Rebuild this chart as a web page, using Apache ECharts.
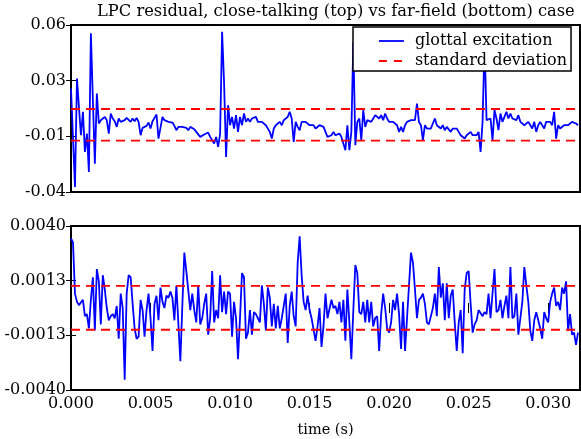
<!DOCTYPE html>
<html>
<head>
<meta charset="utf-8">
<title>LPC residual</title>
<script src="https://cdn.jsdelivr.net/npm/echarts@6/dist/echarts.min.js"></script>
</head>
<body style="margin:0">
<div id="main" style="width:581px;height:439px"></div>
<script type="text/javascript">
// sample step, 8 kHz
var DT = 0.000125;

// close-talking residual (top)
var closeTalk = [
  0.022, 0.022, -0.037, 0.028, 0.027, -0.006, 0.008, -0.016, -0.005, -0.028,
  0.055, 0.015, -0.023, 0.019, 0.001, 0.003, 0.002, 0.005, 0.003, -0.005,
  0.007, 0.004, 0.0024, -0.001, 0.004, 0.002, 0.003, 0.003, 0.0044, 0.0036,
  0.002, 0.004, 0.0024, 0.0044, 0.002, -0.006, -0.0016, -0.0016, -0.0004, 0.0016,
  -0.002, 0.0024, 0.0044, 0.0064, -0.008, -0.0016, 0.005, 0.003, 0.002, 0.002,
  0.002, 0.0016, -0.0004, -0.003, -0.001, -0.002, -0.001, -0.0012, -0.0016, -0.003,
  -0.001, -0.0004, -0.0024, -0.004, -0.0046, -0.007, -0.006, -0.0056, -0.0056, -0.0044,
  -0.007, -0.006, -0.011, -0.007, -0.013, -0.005, 0.056, 0.025, -0.019, 0.012,
  0.0, 0.005, -0.002, 0.006, -0.004, 0.005, 0.0, 0.007, 0.002, 0.004,
  0.002, 0.004, 0.003, 0.005, 0.002, 0.003, 0.002, 0.002, 0.0, -0.001,
  -0.004, -0.008, -0.002, 0.0, 0.001, 0.002, 0.0, 0.003, 0.004, 0.005,
  0.008, 0.004, -0.01, 0.002, -0.001, -0.003, 0.002, 0.001, 0.002, 0.001,
  0.0, 0.001, 0.0, -0.002, -0.001, 0.0, 0.0, -0.001, -0.002, -0.007,
  -0.007, -0.006, -0.004, -0.006, -0.006, -0.005, -0.007, -0.007, -0.015, 0.0,
  -0.015, -0.004, 0.05, -0.012, 0.002, 0.004, -0.009, 0.009, -0.001, 0.003,
  0.004, 0.002, 0.004, 0.006, 0.007, 0.004, 0.006, 0.003, 0.007, 0.004,
  0.002, 0.003, 0.002, 0.001, 0.0, -0.004, -0.001, -0.004, 0.0, 0.002,
  0.001, 0.003, 0.002, 0.003, 0.013, 0.002, 0.0, -0.009, 0.0, -0.002,
  -0.003, -0.002, -0.001, 0.004, 0.0, 0.001, -0.002, 0.0, -0.003, -0.001,
  -0.002, -0.004, -0.002, -0.001, -0.002, -0.004, -0.006, -0.005, -0.008, -0.006,
  -0.005, -0.004, -0.006, -0.007, -0.006, -0.004, -0.016, 0.002, 0.05, 0.003,
  0.002, 0.004, -0.009, 0.009, 0.004, -0.003, 0.007, 0.002, 0.005, 0.008,
  0.004, 0.007, 0.004, 0.005, 0.003, 0.006, 0.002, 0.003, 0.0, 0.001,
  0.002, 0.001, -0.002, 0.002, -0.004, 0.0, 0.002, 0.0, -0.002, 0.002,
  0.001, 0.002, 0.0, 0.008, -0.008, 0.0, -0.002, -0.001, 0.0, 0.001,
  0.0, 0.001, 0.002, 0.002, 0.001, 0.0
];

// far-field residual (bottom)
var farField = [
  0.0034, 0.0032, 0.0007, 0.0003, 0.00014, 0.00005, 0.0004, -0.0004, -0.0003, -0.001,
  0.0004, 0.0015, -0.0011, 0.0019, 0.0013, -0.0008, 0.0016, 0.0009, 0.0, -0.0006,
  -0.0004, -0.0003, -0.0005, 0.0001, -0.0015, 0.0007, 0.0, -0.0035, 0.0007, 0.0016,
  0.0015, 0.0002, -0.001, -0.0015, -0.0014, 0.0004, -0.0001, -0.0014, -0.0001, 0.0007,
  -0.0005, -0.0021, 0.0002, 0.0006, -0.0006, 0.001, 0.0003, 0.0, 0.0006, 0.0005,
  0.0008, 0.0005, -0.0006, 0.0011, 0.0011, -0.0026, 0.0001, 0.0027, 0.0018, 0.0018,
  -0.0001, 0.0007, -0.0001, -0.0007, 0.0011, -0.0008, -0.0005, 0.0002, 0.0007, -0.0013,
  -0.0005, 0.0018, -0.0007, -0.0001, -0.0005, 0.0016, -0.0002, 0.0008, -0.0003, 0.0008,
  0.0007, -0.0014, 0.0003, -0.0005, -0.0025, -0.0005, 0.0017, 0.0015, -0.0015, -0.0012,
  -0.0001, -0.0013, -0.0002, -0.0003, -0.0005, -0.0007, 0.0011, 0.0002, -0.0011, 0.001,
  0.0005, -0.0009, 0.0002, -0.001, 0.0001, -0.001, -0.0005, 0.0001, 0.0007, -0.0017,
  0.0001, 0.0008, -0.0004, -0.0009, 0.0022, 0.0035, 0.0016, 0.0003, -0.0001, 0.0006,
  -0.0001, -0.0005, -0.0005, -0.0016, -0.0009, 0.0, -0.0019, -0.0009, 0.0007, -0.0005,
  -0.0005, 0.0004, 0.0, 0.0001, -0.0003, 0.0003, -0.0007, 0.0004, -0.0016, 0.0009,
  -0.0007, -0.0025, -0.0001, 0.0021, 0.0017, -0.0002, -0.0003, 0.0003, -0.0007, 0.0004,
  -0.0007, 0.0003, -0.0009, -0.0005, -0.0004, -0.0021, -0.0003, 0.0007, 0.0, -0.001,
  -0.0012, -0.0007, 0.0004, -0.0001, 0.0007, -0.0003, -0.002, 0.0003, -0.0021, -0.0005,
  0.0011, 0.0027, 0.0022, 0.0009, -0.0005, 0.0004, 0.0005, 0.0007, 0.0002, -0.0007,
  -0.0008, -0.0008, 0.0, 0.0007, -0.0004, 0.002, 0.0005, 0.0012, -0.0006, 0.0012,
  -0.0005, 0.0006, 0.0009, -0.0007, -0.0021, -0.0007, -0.0001, -0.0022, 0.0009, 0.0017,
  0.0018, 0.0002, -0.0012, -0.0008, -0.0006, -0.0001, -0.0001, -0.0004, -0.0002, -0.0003,
  0.0007, -0.0005, -0.0005, 0.0019, -0.0002, -0.0001, 0.0004, -0.0005, 0.0001, 0.0006,
  -0.0005, 0.002, -0.0005, -0.0004, 0.0007, -0.0013, -0.0005, 0.0003, 0.002, 0.0011,
  0.0003, -0.0011, -0.0016, -0.0006, -0.0002, -0.0006, -0.001, -0.0015, -0.0002, -0.0005,
  -0.0007, 0.0003, 0.0007, 0.001, 0.0001, 0.0003, -0.0001, 0.001, 0.0007, 0.0013,
  -0.0011, -0.0003, -0.0013, -0.0012, -0.0018, -0.0012
];

// +/- standard deviation levels
var stdClose = [0.0097, -0.0092];
var stdFar = [0.00108, -0.00106];

// ticks
var xTicks = [0, 0.005, 0.010, 0.015, 0.020, 0.025, 0.030];
var yTicksTop = [-0.04, -0.006667, 0.026667, 0.06];
var yTicksBottom = [-0.004, -0.001333, 0.001333, 0.004];

var X_MAX = 0.032;
var FONT = 'DejaVu Serif';

function toPairs(arr) {
    return arr.map(function (v, i) { return [i * DT, v]; });
}

function stdSeries(level, idx) {
    return {
        name: 'standard deviation', type: 'line',
        xAxisIndex: idx * 2, yAxisIndex: idx * 2,
        data: [[0, level], [X_MAX, level]],
        symbol: 'none', silent: true,
        lineStyle: { color: '#ff0000', width: 1.8, type: [9, 6] },
        itemStyle: { color: '#ff0000' }
    };
}

var tick = { show: true, inside: true, length: 5, lineStyle: { color: '#000', width: 1 } };
var labelStyle = { color: '#000', fontFamily: FONT, fontSize: 16 };

function xAxes(idx, showLabels) {
    var ticks = showLabels ? Object.assign({ customValues: xTicks }, tick) : { show: false };
    return [
        {
            type: 'value', gridIndex: idx, min: 0, max: X_MAX, position: 'bottom',
            axisLine: { show: false }, splitLine: { show: false }, axisTick: ticks,
            axisLabel: showLabels ? Object.assign({
                customValues: xTicks, margin: 6,
                formatter: function (v) { return v.toFixed(3); }
            }, labelStyle) : { show: false },
            name: showLabels ? 'time (s)' : '', nameLocation: 'middle', nameGap: 33,
            nameTextStyle: { color: '#000', fontFamily: FONT, fontSize: 14.5 }
        },
        {
            type: 'value', gridIndex: idx, min: 0, max: X_MAX, position: 'top',
            axisLine: { show: false }, splitLine: { show: false }, axisTick: ticks,
            axisLabel: { show: false }
        }
    ];
}

function yAxes(idx, lo, hi, ticks, digits) {
    return [
        {
            type: 'value', gridIndex: idx, min: lo, max: hi, position: 'left',
            axisLine: { show: false }, splitLine: { show: false },
            axisTick: Object.assign({ customValues: ticks }, tick),
            axisLabel: Object.assign({
                customValues: ticks, margin: 5,
                formatter: function (v) { return v.toFixed(digits); }
            }, labelStyle)
        },
        {
            type: 'value', gridIndex: idx, min: lo, max: hi, position: 'right',
            axisLine: { show: false }, splitLine: { show: false },
            axisTick: Object.assign({ customValues: ticks }, tick),
            axisLabel: { show: false }
        }
    ];
}

var chart = echarts.init(document.getElementById('main'));
chart.setOption({
    backgroundColor: '#fff',
    animation: false,
    graphic: [{
        type: 'text', left: 97, top: 4,
        style: {
            text: 'LPC residual, close-talking (top) vs far-field (bottom) case',
            fill: '#000', font: '16.3px "DejaVu Serif"'
        }
    }],
    legend: {
        orient: 'vertical', left: 353, top: 27,
        padding: [6, 4, 2, 25], itemGap: 4, itemWidth: 25, itemHeight: 14,
        backgroundColor: '#fff', borderColor: '#000', borderWidth: 1.5,
        itemStyle: { opacity: 0 },
        textStyle: { color: '#000', fontFamily: FONT, fontSize: 16, lineHeight: 14, padding: [0, 0, 0, 6] },
        data: [
            { name: 'glottal excitation', lineStyle: { color: '#0000ff', width: 1.8 } },
            { name: 'standard deviation', lineStyle: { color: '#ff0000', width: 1.8, type: [8, 7] } }
        ]
    },
    grid: [
        { left: 71, top: 25, width: 509, height: 167, show: true, borderColor: '#000', borderWidth: 2, backgroundColor: 'transparent' },
        { left: 71, top: 226, width: 509, height: 167, show: true, borderColor: '#000', borderWidth: 2, backgroundColor: 'transparent' }
    ],
    xAxis: xAxes(0, false).concat(xAxes(1, true)),
    yAxis: yAxes(0, -0.04, 0.06, yTicksTop, 2).concat(yAxes(1, -0.004, 0.004, yTicksBottom, 4)),
    series: [
        {
            name: 'glottal excitation', type: 'line', xAxisIndex: 0, yAxisIndex: 0,
            data: toPairs(closeTalk), symbol: 'none',
            lineStyle: { color: '#0000ff', width: 1.8 }, itemStyle: { color: '#0000ff' }
        },
        stdSeries(stdClose[0], 0),
        stdSeries(stdClose[1], 0),
        {
            name: 'glottal excitation', type: 'line', xAxisIndex: 2, yAxisIndex: 2,
            data: toPairs(farField), symbol: 'none',
            lineStyle: { color: '#0000ff', width: 1.8 }, itemStyle: { color: '#0000ff' }
        },
        stdSeries(stdFar[0], 1),
        stdSeries(stdFar[1], 1)
    ]
});
</script>
</body>
</html>
